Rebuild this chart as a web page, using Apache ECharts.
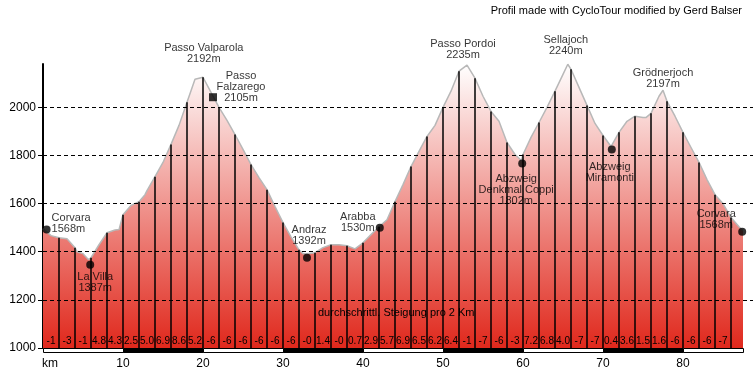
<!DOCTYPE html>
<html><head><meta charset="utf-8">
<script src="https://cdn.jsdelivr.net/npm/echarts@6/dist/echarts.min.js"></script>
<style>html,body{margin:0;padding:0;background:#fff}#c{width:753px;height:379px}</style>
</head><body><div id="c"></div>
<script>
// ---- data ----
const profileKm = [0,1,2,3,4,4.25,5,5.7,6,7,8,9,9.5,10,11,12,12.75,13,14,15,16,17,18,19,20,20.1,21,22,23,24,25,26,27,28,29,30,31,32,32.5,33,34,35,36,37,38,39,39.2,40,41,42,43,44,45,46,47,48,49,50,51,52,53,54,55,56,57,58,59,59.8,60,61,62,63,64,65,65.6,66,67,68,69,70,71,72,73,74,75,75.4,76,77,77.5,78,79,80,81,82,83,84,85,86,87,87.5];
const profileElev = [1496,1467,1458,1454,1417,1400,1392,1367,1375,1429,1479,1490,1492,1554,1592,1608,1637,1654,1712,1771,1846,1925,2021,2117,2125,2129,2062,2000,1946,1887,1825,1762,1708,1658,1588,1521,1462,1408,1392,1392,1396,1417,1429,1429,1425,1412,1410,1437,1471,1504,1533,1608,1679,1754,1817,1879,1925,2000,2067,2150,2175,2121,2046,1983,1942,1854,1804,1779,1804,1875,1937,2000,2067,2137,2179,2158,2083,2008,1933,1883,1837,1896,1942,1963,1958,1958,1975,2046,2071,2025,1963,1896,1833,1771,1700,1637,1600,1542,1504,1488];
const gradeLabels = ["-1","-3","-1","4.8","4.3","2.5","5.0","6.9","8.6","5.2","-6","-6","-6","-6","-6","-6","-0","1.4","-0","0.7","2.9","5.7","6.9","6.5","6.2","6.4","-1","-7","-6","-3","7.2","6.8","4.0","-7","-7","0.4","3.6","1.5","1.6","-6","-6","-6","-7",""];
const gradeStepKm = 2;
const stripBreaks = [0,10,20,30,40,50,60,70,80,87.5];
const yTicks = [1000,1200,1400,1600,1800,2000];
const gridTicks = [1200,1400,1600,1800,2000];
const xTicks = [0,10,20,30,40,50,60,70,80];
const placeNames = ["Corvara","La Villa","Passo Valparola","Passo\nFalzarego","Andraz","Arabba","Passo Pordoi","Abzweig\nDenkmal Coppi","Sellajoch","Abzweig\nMiramonti","Grödnerjoch","Corvara"];
const placeHeights = ["1568m","1387m","2192m","2105m","1392m","1530m","2235m","1802m","2240m","","2197m","1568m"];
const placeKm = [0.45,5.9,20.1,21.25,33,42.1,53,59.9,65.6,71.1,77.5,87.4];
const placeElev = [1492,1346,2129,2042,1375,1500,2175,1767,2179,1825,2071,1483];
const placeMarker = ["circle","circle","none","rect","circle","circle","none","circle","none","circle","none","circle"];
const creditText = "Profil made with CycloTour modified by Gerd Balser";
const gradeTitle = "durchschrittl. Steigung pro 2 Km";
const xUnit = "km";

// ---- styling / layout ----
const FONT = "Liberation Sans";
const routeEnd = profileKm[profileKm.length - 1];
const yMin = 1000, yMax = 2180, xMax = 88.75;
function elevAt(k) {
  for (let i = 0; i < profileKm.length - 1; i++) {
    if (k >= profileKm[i] && k <= profileKm[i + 1]) {
      const t = (k - profileKm[i]) / (profileKm[i + 1] - profileKm[i]);
      return profileElev[i] + t * (profileElev[i + 1] - profileElev[i]);
    }
  }
  return profileElev[profileElev.length - 1];
}
const labelLayout = [
  {position:'right', distance:1, offset:[0,-6], align:'left'},
  {position:'bottom', distance:3, offset:[5,0]},
  {position:'top', distance:12, offset:[0,0]},
  {position:'right', distance:24, offset:[0,-10], align:'center'},
  {position:'top', distance:7, offset:[2,0]},
  {position:'left', distance:18, offset:[0,-5], align:'center'},
  {position:'top', distance:5, offset:[-4,0]},
  {position:'bottom', distance:6, offset:[-6,0]},
  {position:'top', distance:8, offset:[-2,0]},
  {position:'bottom', distance:8, offset:[-2,0]},
  {position:'top', distance:1, offset:[0,0]},
  {position:'left', distance:22, offset:[0,-12], align:'center'}
];

const chart = echarts.init(document.getElementById('c'), null, {renderer:'canvas'});
const option = {
  animation: false,
  backgroundColor: '#fff',
  title: [
    {text: creditText, right: 6, top: 0, textStyle: {fontSize: 11, fontWeight: 'normal', fontFamily: FONT, color: '#000'}},
    {text: gradeTitle, left: 313, top: 302, textStyle: {fontSize: 11, fontWeight: 'normal', fontFamily: FONT, color: '#000'}}
  ],
  grid: {left: 43, right: 0, top: 64, bottom: 31, containLabel: false},
  xAxis: {
    type: 'value', min: 0, max: xMax, interval: 10,
    axisLine: {show: false}, axisTick: {show: false}, splitLine: {show: false},
    axisLabel: {
      margin: 10, fontSize: 12, fontFamily: FONT, color: '#000',
      customValues: xTicks,
      formatter: v => v === 0 ? '{u|' + xUnit + '}' : (xTicks.indexOf(v) >= 0 ? String(v) : ''),
      rich: {u: {fontSize: 12, fontFamily: FONT, color: '#000', padding: [0,0,0,14]}}
    }
  },
  yAxis: {
    type: 'value', min: yMin, max: yMax, interval: 200,
    axisLine: {show: true, lineStyle: {color: '#000', width: 2}},
    axisTick: {show: true, length: 5, lineStyle: {color: '#000'}, customValues: yTicks},
    splitLine: {show: false},
    axisLabel: {margin: 7, fontSize: 12, fontFamily: FONT, color: '#000', customValues: yTicks,
      formatter: v => yTicks.indexOf(v) >= 0 ? String(v) : ''}
  },
  series: [
    {
      type: 'line', z: 2, symbol: 'none', smooth: false,
      data: profileKm.map((k, i) => [k, profileElev[i]]),
      lineStyle: {color: '#b8b8b8', width: 1.5},
      areaStyle: {origin: 'start', opacity: 1, color: new echarts.graphic.LinearGradient(0, 0, 0, 1, [
        {offset: 0, color: '#ffffff'}, {offset: 1, color: '#e0281c'}])}
    },
    {
      type: 'custom', z: 3, clip: false, silent: true,
      data: gradeLabels.map((g, i) => [i * gradeStepKm, yMin]),
      renderItem: (params, api) => {
        const k = api.value(0);
        const next = Math.min(k + gradeStepKm, routeEnd);
        const p0 = api.coord([k, yMin]);
        const p1 = api.coord([k, elevAt(k)]);
        const pc = api.coord([(k + next) / 2, yMin]);
        const children = [];
        if (k > 0) children.push({type: 'line', shape: {x1: p0[0], y1: p0[1], x2: p1[0], y2: p1[1]}, style: {stroke: '#000', lineWidth: 1.5}});
        children.push({type: 'text', style: {text: gradeLabels[params.dataIndex], x: pc[0], y: pc[1] - 7, align: 'center', verticalAlign: 'middle', font: '10px ' + FONT, fill: '#000'}});
        return {type: 'group', children};
      }
    },
    {
      type: 'custom', z: 3, clip: false, silent: true,
      data: stripBreaks.slice(0, -1).map((a, i) => [a, stripBreaks[i + 1], i]),
      renderItem: (params, api) => {
        const pa = api.coord([api.value(0), yMin]);
        const pb = api.coord([api.value(1), yMin]);
        return {type: 'rect', shape: {x: pa[0] + 0.5, y: pa[1] + 0.5, width: pb[0] - pa[0], height: 4},
          style: {fill: api.value(2) % 2 ? '#000' : '#fff', stroke: '#000', lineWidth: 1}};
      }
    },
    {
      type: 'line', z: 4, data: [], symbol: 'none',
      markLine: {silent: true, symbol: 'none', label: {show: false},
        lineStyle: {color: '#000', type: [4, 3], width: 1},
        data: gridTicks.map(v => ({yAxis: v}))}
    },
    {
      type: 'scatter', z: 5, silent: true,
      data: placeNames.map((n, i) => ({
        value: [placeKm[i], placeElev[i]],
        symbol: placeMarker[i] === 'none' ? 'circle' : placeMarker[i],
        symbolSize: placeMarker[i] === 'none' ? 0 : 8,
        label: Object.assign({show: true, formatter: placeHeights[i] ? n + '\n' + placeHeights[i] : n,
          fontSize: 11, fontFamily: FONT, color: '#000', lineHeight: 11, align: 'center'}, labelLayout[i])
      })),
      itemStyle: {color: '#000'}
    }
  ]
};
chart.setOption(option);
</script></body></html>
